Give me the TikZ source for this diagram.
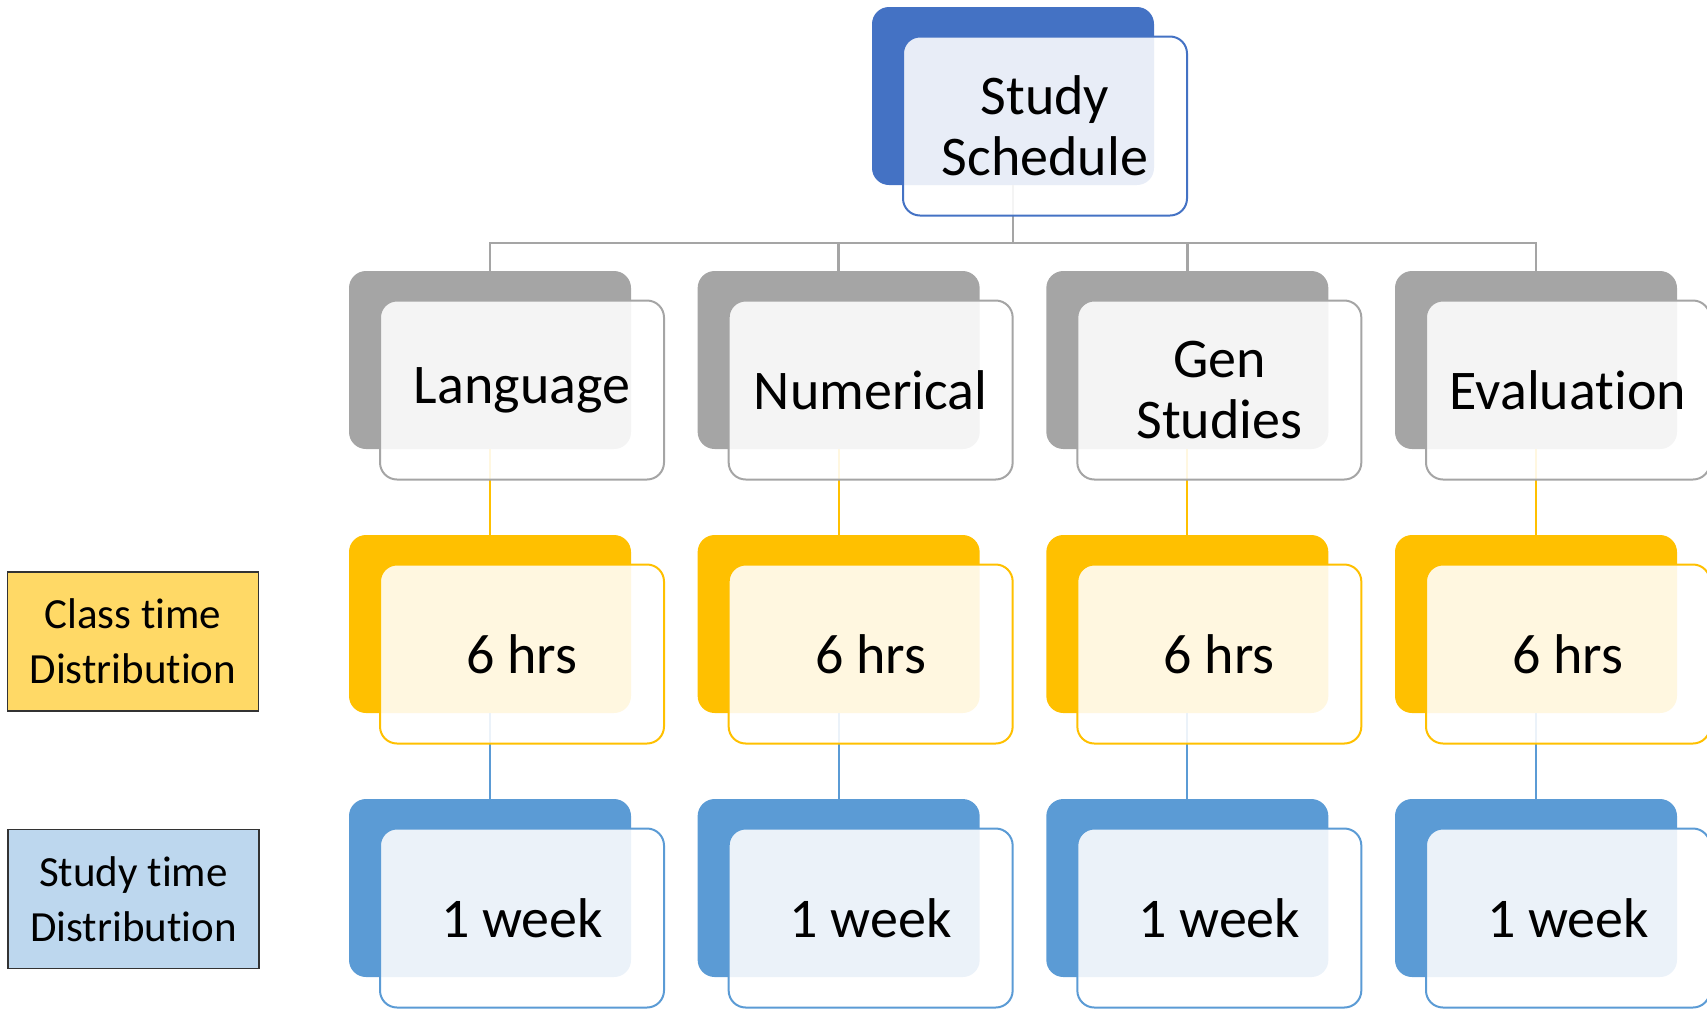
\documentclass[tikz,border=0pt]{standalone}
\usepackage{fontspec}
\setmainfont{Carlito}[RawFeature={-liga;-clig;-calt;-rlig;-dlig}]
\usetikzlibrary{positioning}
\definecolor{topblue}{HTML}{4472C4}
\definecolor{catgray}{HTML}{A5A5A5}
\definecolor{hrsgold}{HTML}{FFC000}
\definecolor{weekblue}{HTML}{5B9BD5}
\definecolor{classfill}{HTML}{FFD966}
\definecolor{studyfill}{HTML}{BDD7EE}

\begin{document}
\begin{tikzpicture}[node distance=132pt and 174.33pt,on grid,
    backbox/.style={rectangle,rounded corners=8.5pt,minimum width=141pt,minimum height=89pt,inner sep=0pt},
    frontbox/.style={rectangle,rounded corners=8.5pt,draw,line width=1pt,fill=white,fill opacity=0.88,text opacity=1,
      minimum width=142pt,minimum height=89.5pt,inner sep=0pt,align=center,
      font=\fontsize{28}{30.5}\selectfont,below right=15pt and 16pt of #1},
    sidebox/.style={rectangle,draw=black!80,line width=0.8pt,minimum width=125.5pt,minimum height=69.5pt,
      align=center,font=\fontsize{21.5}{27.5}\selectfont},
    link/.style={line width=1pt}]
  \useasboundingbox (0,0) rectangle (853.5pt,-509pt);
  % back plates
  \node (SSb) [backbox,fill=topblue] at (506.5pt,-48pt) {};
  \node (LAb) [backbox,fill=catgray] at (245pt,-180pt) {};
  \node (NUb) [backbox,fill=catgray,right=of LAb] {};
  \node (GSb) [backbox,fill=catgray,right=of NUb] {};
  \node (EVb) [backbox,fill=catgray,right=of GSb] {};
  \node (LA6b) [backbox,fill=hrsgold,below=of LAb] {};
  \node (NU6b) [backbox,fill=hrsgold,below=of NUb] {};
  \node (GS6b) [backbox,fill=hrsgold,below=of GSb] {};
  \node (EV6b) [backbox,fill=hrsgold,below=of EVb] {};
  \node (LA1b) [backbox,fill=weekblue,below=of LA6b] {};
  \node (NU1b) [backbox,fill=weekblue,below=of NU6b] {};
  \node (GS1b) [backbox,fill=weekblue,below=of GS6b] {};
  \node (EV1b) [backbox,fill=weekblue,below=of EV6b] {};
  % connectors
  \coordinate [below=73.5pt of SSb] (bar);
  \draw[link,catgray,line width=1.2pt] (SSb) -- (bar) -| (LAb.north);
  \draw[link,catgray,line width=1.2pt] (bar) -| (NUb.north);
  \draw[link,catgray,line width=1.2pt] (bar) -| (GSb.north);
  \draw[link,catgray,line width=1.2pt] (bar) -| (EVb.north);
  \draw[link,hrsgold] (LAb) -- (LA6b);
  \draw[link,hrsgold] (NUb) -- (NU6b);
  \draw[link,hrsgold] (GSb) -- (GS6b);
  \draw[link,hrsgold] (EVb) -- (EV6b);
  \draw[link,weekblue] (LA6b) -- (LA1b);
  \draw[link,weekblue] (NU6b) -- (NU1b);
  \draw[link,weekblue] (GS6b) -- (GS1b);
  \draw[link,weekblue] (EV6b) -- (EV1b);
  % front cards
  \node (SS) [frontbox=SSb,draw=topblue] {Study\\Schedule};
  \node (LA) [frontbox=LAb,draw=catgray] {Language};
  \node (NU) [frontbox=NUb,draw=catgray] {Numerical};
  \node (GS) [frontbox=GSb,draw=catgray] {Gen\\Studies};
  \node (EV) [frontbox=EVb,draw=catgray] {Evaluation};
  \node (LA6) [frontbox=LA6b,draw=hrsgold] {6 hrs};
  \node (NU6) [frontbox=NU6b,draw=hrsgold] {6 hrs};
  \node (GS6) [frontbox=GS6b,draw=hrsgold] {6 hrs};
  \node (EV6) [frontbox=EV6b,draw=hrsgold] {6 hrs};
  \node (LA1) [frontbox=LA1b,draw=weekblue] {1 week};
  \node (NU1) [frontbox=NU1b,draw=weekblue] {1 week};
  \node (GS1) [frontbox=GS1b,draw=weekblue] {1 week};
  \node (EV1) [frontbox=EV1b,draw=weekblue] {1 week};
  % row labels
  \node (CT) [sidebox,fill=classfill] at (66.5pt,-320.75pt) {Class time\\Distribution};
  \node (ST) [sidebox,fill=studyfill] at (66.75pt,-449.5pt) {Study time\\Distribution};
\end{tikzpicture}
\end{document}
